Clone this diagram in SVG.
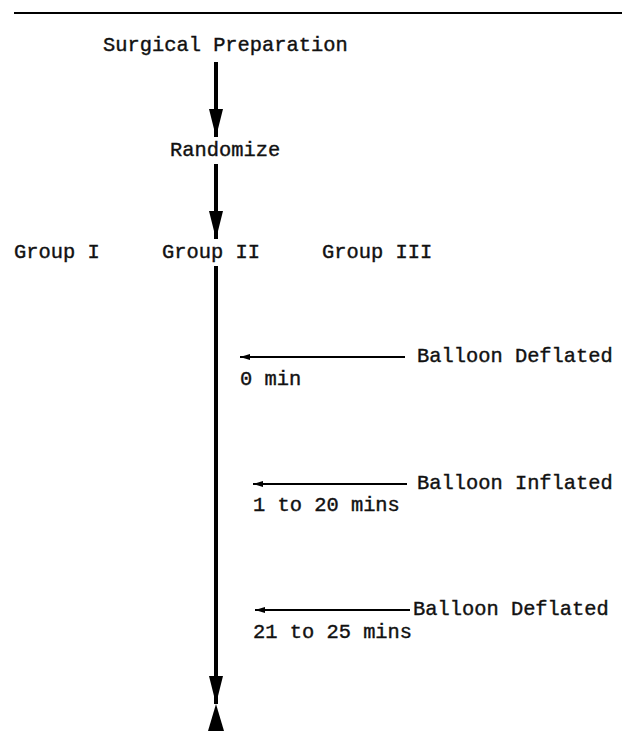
<svg xmlns="http://www.w3.org/2000/svg" width="622" height="751" viewBox="0 0 622 751">
<style>
text{font-family:"Liberation Mono","Courier New",monospace;font-size:20.4px;fill:#111;stroke:#111;stroke-width:0.4}
.main{stroke:#000;stroke-width:4;fill:none}
.thin{stroke:#000;stroke-width:1.8;fill:none}
</style>
<defs>
<marker id="bigv" viewBox="0 0 28 14" refX="28" refY="7" markerWidth="28" markerHeight="14" markerUnits="userSpaceOnUse" orient="auto"><path d="M0,0 L28,7 L0,14 Z" fill="#000"/></marker>
<marker id="small" viewBox="0 0 10 6" refX="10" refY="3" markerWidth="10" markerHeight="6" markerUnits="userSpaceOnUse" orient="auto"><path d="M0,0 L10,3 L0,6 Z" fill="#000"/></marker>
</defs>
<line x1="14" y1="13" x2="622" y2="13" stroke="#000" stroke-width="2"/>
<g id="surgical"><text x="103" y="51">Surgical Preparation</text></g>
<g id="randomize"><text x="170" y="156">Randomize</text></g>
<g id="group1"><text x="14" y="258">Group I</text></g>
<g id="group2"><text x="162" y="258">Group II</text></g>
<g id="group3"><text x="322" y="258">Group III</text></g>
<g id="deflated1"><text x="417" y="362">Balloon Deflated</text><text x="240" y="385">0 min</text></g>
<g id="inflated"><text x="417" y="489">Balloon Inflated</text><text x="253" y="511">1 to 20 mins</text></g>
<g id="deflated2"><text x="413" y="615">Balloon Deflated</text><text x="253" y="638">21 to 25 mins</text></g>
<g id="connectors">
<line class="main" x1="216" y1="62" x2="216" y2="137" marker-end="url(#bigv)"/>
<line class="main" x1="216" y1="164" x2="216" y2="239" marker-end="url(#bigv)"/>
<line class="main" x1="216" y1="266" x2="216" y2="704" marker-end="url(#bigv)"/>
<path d="M216,704 L208,731 L224,731 Z" fill="#000"/>
<line class="thin" x1="405" y1="357" x2="240" y2="357" marker-end="url(#small)"/>
<line class="thin" x1="407" y1="484" x2="253" y2="484" marker-end="url(#small)"/>
<line class="thin" x1="410" y1="610" x2="255" y2="610" marker-end="url(#small)"/>
</g>
</svg>
